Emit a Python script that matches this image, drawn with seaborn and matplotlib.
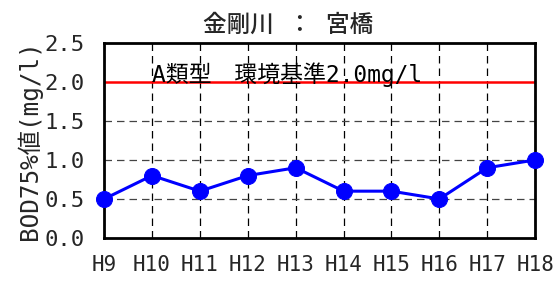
import pandas as pd
import seaborn as sns
import matplotlib.pyplot as plt

# Data
years = ['H9', 'H10', 'H11', 'H12', 'H13', 'H14', 'H15', 'H16', 'H17', 'H18']
bod75 = [0.5, 0.8, 0.6, 0.8, 0.9, 0.6, 0.6, 0.5, 0.9, 1.0]
standard = 2.0
yticks = [0.0, 0.5, 1.0, 1.5, 2.0, 2.5]

df = pd.DataFrame({'year': years, 'bod': bod75})
df['pos'] = range(len(years))

sns.set_theme(style="white")
# half-width mono latin + full-width CJK, like MS Gothic
plt.rcParams['font.family'] = ['DejaVu Sans Mono', 'Noto Sans CJK JP']

fig = plt.figure(figsize=(5.54, 2.84), dpi=100)
ax = fig.add_axes([0.188, 0.162, 0.778, 0.687])

# dashed grid
for x in range(len(years)):
    ax.axvline(x, color='black', ls=(0, (6, 4)), lw=0.9, zorder=1)
for y in [0.5, 1.0, 1.5]:
    ax.axhline(y, color='#444444', ls=(0, (6, 4)), lw=0.9, zorder=1)

# environmental standard
ax.axhline(standard, color='red', lw=1.8, zorder=2)
ax.text(1.0, standard - 0.07, 'A類型　環境基準2.0mg/l', fontsize=16.5,
        ha='left', va='bottom', color='black', zorder=3)

sns.lineplot(data=df, x='pos', y='bod', color='blue', lw=2.2, marker='o',
             markersize=11.5, markeredgecolor='blue', ax=ax, zorder=4, clip_on=False)

ax.set_xlim(0, len(years) - 1)
ax.set_ylim(0, 2.5)
ax.set_xticks(range(len(years)))
ax.set_xticklabels(years, fontsize=15)
ax.set_yticks(yticks)
ax.set_yticklabels([f'{v:.1f}' for v in yticks], fontsize=16)
ax.tick_params(axis='x', length=0, pad=12)
ax.tick_params(axis='y', length=0, pad=14)
ax.set_xlabel('')
ax.set_ylabel('BOD75%値(mg/l)', fontsize=17.5, labelpad=2)
for s in ax.spines.values():
    s.set_color('black')
    s.set_linewidth(2)

fig.suptitle('金剛川 ： 宮橋', x=0.52, y=0.912, va='center', fontsize=17,
             fontweight='medium')

fig.savefig('out.png', dpi=100)
